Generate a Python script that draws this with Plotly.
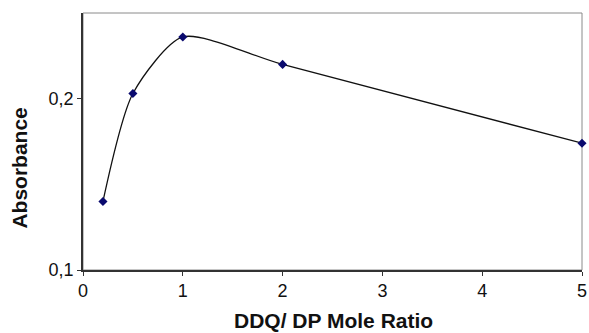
import plotly.graph_objects as go

ratio = [0.2, 0.5, 1, 2, 5]
absorbance = [0.140, 0.203, 0.236, 0.220, 0.174]

x_ticks = [0, 1, 2, 3, 4, 5]
y_ticks = [0.1, 0.2]
y_tick_labels = ["0,1", "0,2"]

fig = go.Figure()
fig.add_trace(go.Scatter(
    x=ratio, y=absorbance, mode="lines+markers",
    line=dict(color="#111111", width=1.3, shape="spline", smoothing=0.7),
    marker=dict(symbol="diamond", size=7, color="#0a0a6e"),
    showlegend=False, hoverinfo="skip", cliponaxis=False
))

font_family = "Liberation Sans, Arial, sans-serif"
fig.update_layout(
    width=589, height=333,
    margin=dict(l=83, r=2, t=13, b=63),
    paper_bgcolor="white", plot_bgcolor="white",
    font=dict(family=font_family, color="#111111"),
    xaxis=dict(range=[0, 5], tickvals=x_ticks, ticks="outside", ticklen=4,
               tickcolor="#333333", showgrid=False, zeroline=False,
               showline=True, linecolor="#333333", linewidth=1.5,
               ticklabeloverflow="allow",
               tickfont=dict(size=18, family=font_family, color="#111111")),
    yaxis=dict(range=[0.1, 0.25], tickvals=y_ticks, ticktext=y_tick_labels,
               ticks="outside", ticklen=4, tickcolor="#333333",
               showgrid=False, zeroline=False, showline=True,
               linecolor="#333333", linewidth=1.5,
               tickfont=dict(size=18, family=font_family, color="#111111")),
    shapes=[dict(type="rect", xref="paper", yref="paper", x0=0, x1=1, y0=0, y1=1,
                 line=dict(color="#8a8a8a", width=1), layer="below")],
    annotations=[
        dict(text="<b>DDQ/ DP Mole Ratio</b>", xref="paper", yref="paper",
             x=0.502, y=-0.198, xanchor="center", yanchor="middle", showarrow=False,
             font=dict(size=21, family=font_family, color="#111111")),
        dict(text="<b>Absorbance</b>", xref="paper", yref="paper",
             x=-0.127, y=0.397, xanchor="center", yanchor="middle", textangle=-90,
             showarrow=False,
             font=dict(size=21, family=font_family, color="#111111")),
    ],
)

fig.write_html("out.html")
